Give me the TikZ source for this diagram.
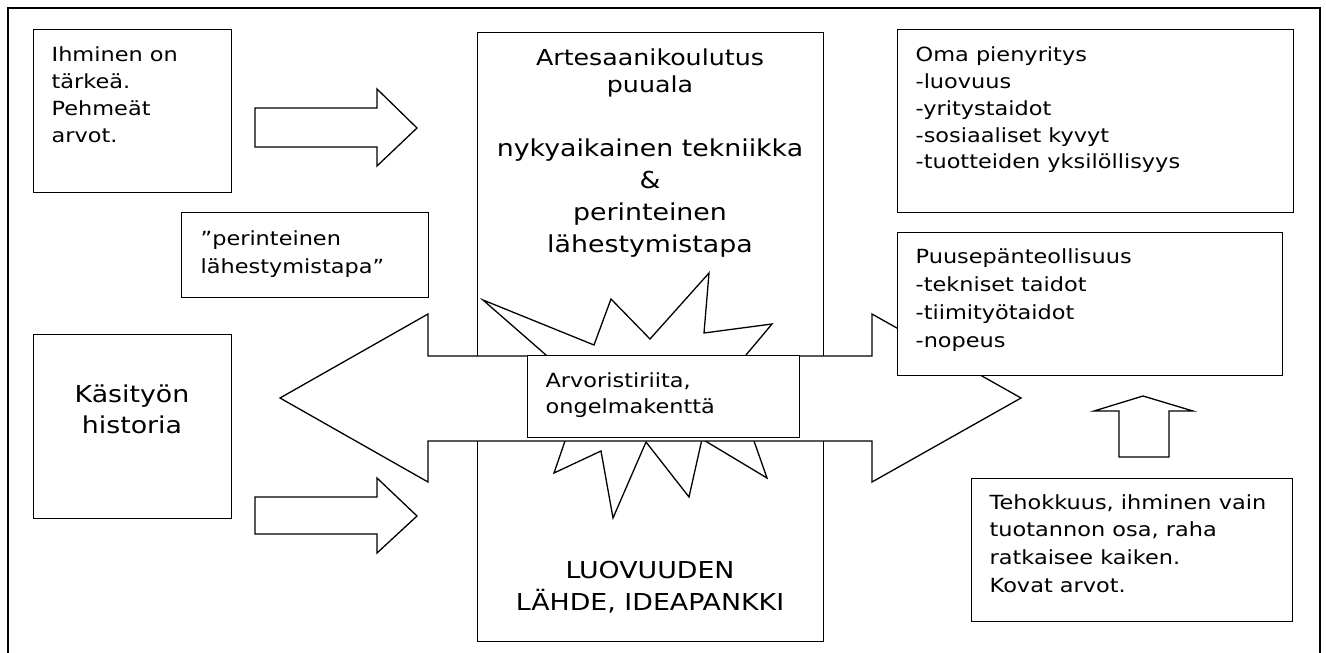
\documentclass[tikz,border=0pt]{standalone}
\usepackage{fontspec}
\setmainfont{DejaVu Sans}[FakeStretch=1.15]
\newcommand\toplines[2][l]{\begin{tabular}[t]{@{}#1@{}}#2\end{tabular}}

\begin{document}
\begin{tikzpicture}[x=1pt,y=-1pt,line width=1.3pt,line join=miter,
    box/.style={draw,fill=white,inner sep=0pt,anchor=north west},
    txt/.style={inner sep=0pt,anchor=base west,
      font=\fontsize{19.5}{27}\selectfont},
    mid/.style={inner sep=0pt,anchor=base,
      font=\fontsize{22}{27}\selectfont},
    big/.style={inner sep=0pt,anchor=base,
      font=\fontsize{23.3}{32}\selectfont},
    fat/.style={draw,fill=white}]
    \useasboundingbox (0,0) rectangle (1326,653);
    \draw[line width=1.6pt] (8,653) |- (1320,8) -- (1320,653);
    \node[box,minimum width=346pt,minimum height=609pt] (art) at (477,32) {};
    \node[mid] (art-t) at (650,65) {\toplines[c]{Artesaanikoulutus\\puuala}};
    \node[big] (tek) at (650,156) {\toplines[c]{nykyaikainen tekniikka\\\&\\perinteinen\\lähestymistapa}};
    \node[big] (lah) at (650,578) {\toplines[c]{LUOVUUDEN\\LÄHDE, IDEAPANKKI}};
    \draw[fat] (483,300) -- (594,345) -- (611,299) -- (650,339) -- (709,273)
      -- (704,333) -- (772,324) -- (746,355) -- (800,398) -- (754,441)
      -- (767,478) -- (702,439) -- (689,497) -- (646,442) -- (613,518)
      -- (601,451) -- (554,473) -- (565,441) -- (540,400) -- (546,355) -- cycle;
    \draw[fat] (280,398) -- (428,314) -- (428,356) -- (872,356) -- (872,314)
      -- (1021,398) -- (872,482) -- (872,441) -- (428,441) -- (428,482) -- cycle;
    \node[box,minimum width=272pt,minimum height=82pt] (arv) at (527,355) {};
    \node[txt,font=\fontsize{19.5}{26}\selectfont] (arv-t) at (545,387) {\toplines{Arvoristiriita,\\ongelmakenttä}};
    \node[box,minimum width=198pt,minimum height=163pt] (ihm) at (33,29) {};
    \node[txt] (ihm-t) at (51,61) {\toplines{Ihminen on\\tärkeä.\\Pehmeät\\arvot.}};
    \node[box,minimum width=247pt,minimum height=85pt] (per) at (181,212) {};
    \node[txt,font=\fontsize{19.5}{28}\selectfont] (per-t) at (200,245) {\toplines{”perinteinen\\lähestymistapa”}};
    \node[box,minimum width=198pt,minimum height=184pt] (kas) at (33,334) {};
    \node[big,font=\fontsize{23.3}{31}\selectfont] (kas-t) at (132,402) {\toplines[c]{Käsityön\\historia}};
    \node[box,minimum width=396pt,minimum height=183pt] (oma) at (897,29) {};
    \node[txt] (oma-t) at (915,61) {\toplines{Oma pienyritys\\-luovuus\\-yritystaidot\\-sosiaaliset kyvyt\\-tuotteiden yksilöllisyys}};
    \node[box,minimum width=385pt,minimum height=143pt] (puu) at (897,232) {};
    \node[txt,font=\fontsize{19.5}{28}\selectfont] (puu-t) at (915,263) {\toplines{Puusepänteollisuus\\-tekniset taidot\\-tiimityötaidot\\-nopeus}};
    \node[box,minimum width=321pt,minimum height=143pt] (teh) at (971,478) {};
    \node[txt,font=\fontsize{19.5}{27.7}\selectfont] (teh-t) at (989,509) {\toplines{Tehokkuus, ihminen vain\\tuotannon osa, raha\\ratkaisee kaiken.\\Kovat arvot.}};
    \draw[fat] (255,108) -- (377,108) -- (377,89) -- (417,128) -- (377,166) -- (377,147) -- (255,147) -- cycle;
    \draw[fat] (255,497) -- (377,497) -- (377,478) -- (417,516) -- (377,553) -- (377,534) -- (255,534) -- cycle;
    \draw[fat] (1119,457) -- (1119,411) -- (1094,411) -- (1143,396) -- (1193,411) -- (1169,411) -- (1169,457) -- cycle;
  \end{tikzpicture}
\end{document}
